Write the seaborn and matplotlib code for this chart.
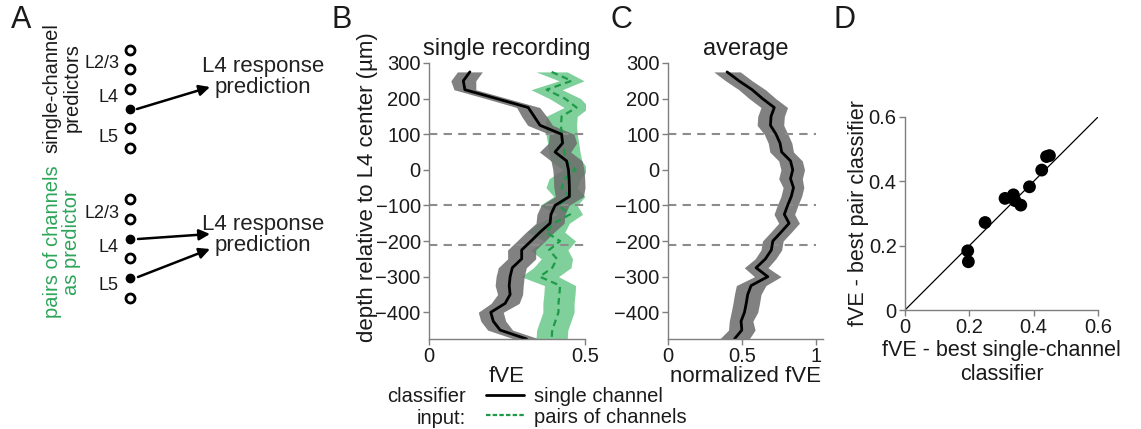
import numpy as np
import pandas as pd
import matplotlib.pyplot as plt
import seaborn as sns
from matplotlib.lines import Line2D

# depth (um relative to L4 center)
depth = [275, 250, 225, 200, 175, 150, 125, 100, 75, 50, 25, 0, -25, -50, -75, -100,
         -125, -150, -175, -200, -225, -250, -275, -300, -325, -350, -375, -400, -425, -450, -475]

# B: single recording
single_fve = [0.131, 0.110, 0.115, 0.217, 0.318, 0.337, 0.356, 0.425, 0.428, 0.404, 0.441, 0.447,
              0.449, 0.450, 0.450, 0.404, 0.391, 0.388, 0.356, 0.327, 0.297, 0.297, 0.267, 0.260,
              0.257, 0.260, 0.244, 0.198, 0.206, 0.228, 0.313]
single_err = [0.040, 0.040, 0.035, 0.035, 0.037, 0.040, 0.040, 0.040, 0.045, 0.050, 0.050, 0.050,
              0.050, 0.050, 0.045, 0.045, 0.045, 0.045, 0.045, 0.045, 0.045, 0.045, 0.045, 0.045,
              0.045, 0.040, 0.045, 0.040, 0.040, 0.040, 0.040]
pair_fve = [0.393, 0.457, 0.377, 0.436, 0.473, 0.425, 0.423, 0.425, 0.430, 0.434, 0.440, 0.470,
            0.435, 0.425, 0.450, 0.415, 0.452, 0.400, 0.375, 0.420, 0.385, 0.410, 0.395, 0.355,
            0.420, 0.418, 0.415, 0.415, 0.405, 0.395, 0.393]
pair_err = [0.050, 0.040, 0.050, 0.050, 0.040, 0.050, 0.050, 0.050, 0.050, 0.050, 0.050, 0.040,
            0.050, 0.050, 0.050, 0.060, 0.040, 0.050, 0.060, 0.050, 0.060, 0.050, 0.060, 0.060,
            0.050, 0.050, 0.050, 0.050, 0.050, 0.050, 0.050]

# C: average normalized fVE
avg_fve = [0.400, 0.480, 0.570, 0.640, 0.720, 0.698, 0.694, 0.732, 0.759, 0.770, 0.830, 0.845,
           0.830, 0.850, 0.835, 0.810, 0.788, 0.820, 0.766, 0.710, 0.700, 0.660, 0.597, 0.676,
           0.563, 0.540, 0.530, 0.518, 0.495, 0.500, 0.450]
avg_err = [0.090, 0.090, 0.090, 0.090, 0.090, 0.090, 0.090, 0.080, 0.080, 0.080, 0.080, 0.080,
           0.080, 0.070, 0.070, 0.070, 0.070, 0.070, 0.070, 0.070, 0.070, 0.070, 0.080, 0.090,
           0.100, 0.090, 0.090, 0.090, 0.080, 0.090, 0.100]

layer_bounds = [100, -100, -210]

# D: best single vs best pair
best_single = [0.195, 0.197, 0.249, 0.311, 0.337, 0.342, 0.360, 0.387, 0.425, 0.440, 0.449]
best_pair = [0.184, 0.150, 0.272, 0.347, 0.358, 0.340, 0.326, 0.383, 0.435, 0.477, 0.480]

# A: schematic electrode channels (pixel rows)
chan_top = [50, 69, 89, 109, 128, 148]
chan_bot = [199, 219, 239, 258, 278, 298]
used_top = [False, False, False, True, False, False]
used_bot = [False, False, True, False, True, False]

sns.set_theme(style="white")
plt.rcParams['font.family'] = ['Liberation Sans', 'DejaVu Sans']
plt.rcParams['axes.edgecolor'] = '#7f7f7f'
plt.rcParams['text.color'] = '#1a1a1a'
plt.rcParams['axes.labelcolor'] = '#1a1a1a'
plt.rcParams['xtick.labelcolor'] = '#1a1a1a'
plt.rcParams['ytick.labelcolor'] = '#1a1a1a'

GREEN = '#1e9a48'
GREEN_BAND = '#7fd09b'
GREY_BAND = '#6b6b6b'
W, H = 1141, 429
TICK = 14.5
LAB = 16

fig = plt.figure(figsize=(11.41, 4.29), dpi=100)

def style_axes(ax):
    sns.despine(ax=ax)
    ax.tick_params(axis='both', direction='out', length=4, width=1, color='#7f7f7f',
                   labelsize=TICK, pad=2, left=True, bottom=True)
    for s in ['left', 'bottom']:
        ax.spines[s].set_linewidth(1.0)

df = pd.DataFrame({'depth': depth, 'single': single_fve, 'pair': pair_fve, 'avg': avg_fve})

# ---- B
axB = fig.add_axes([429 / W, (H - 339) / H, 156 / W, 276 / H])
d = np.array(depth)
axB.fill_betweenx(d, np.array(pair_fve) - pair_err, np.array(pair_fve) + pair_err,
                  color=GREEN_BAND, lw=0)
axB.fill_betweenx(d, np.array(single_fve) - single_err, np.array(single_fve) + single_err,
                  color=GREY_BAND, lw=0, alpha=0.85)
for yb in layer_bounds:
    axB.axhline(yb, color='#8c8c8c', ls=(0, (4, 3)), lw=1.5, zorder=1)
sns.lineplot(data=df, x='pair', y='depth', orient='y', sort=False, estimator=None,
             color=GREEN, lw=1.6, ls=(0, (3, 2)), ax=axB)
sns.lineplot(data=df, x='single', y='depth', orient='y', sort=False, estimator=None,
             color='black', lw=2, ax=axB)
axB.set_xlim(0, 0.5)
axB.set_ylim(-475, 300)
axB.set_yticks([-400, -300, -200, -100, 0, 100, 200, 300])
axB.set_xticks([0, 0.5])
axB.set_xticklabels(['0', '0.5'])
axB.set_xlabel('fVE', fontsize=LAB, labelpad=0)
axB.set_ylabel('depth relative to L4 center (\u00b5m)', fontsize=LAB)
axB.yaxis.set_label_coords(-0.33, 0.55)
axB.set_title('single recording', fontsize=17, pad=6)
style_axes(axB)

# ---- C
axC = fig.add_axes([668 / W, (H - 339) / H, 155 / W, 276 / H])
axC.fill_betweenx(d, np.array(avg_fve) - avg_err, np.array(avg_fve) + avg_err,
                  color=GREY_BAND, lw=0, alpha=0.85)
for yb in layer_bounds:
    axC.hlines(yb, 0, 1, color='#8c8c8c', ls=(0, (4, 3)), lw=1.5, zorder=1)
sns.lineplot(data=df, x='avg', y='depth', orient='y', sort=False, estimator=None,
             color='black', lw=2, ax=axC)
axC.set_xlim(0, 1.05)
axC.set_ylim(-475, 300)
axC.set_yticks([-400, -300, -200, -100, 0, 100, 200, 300])
axC.set_xticks([0, 0.5, 1])
axC.set_xticklabels(['0', '0.5', '1'])
axC.set_xlabel('normalized fVE', fontsize=LAB, labelpad=0)
axC.set_ylabel('')
axC.set_title('average', fontsize=17, pad=6)
style_axes(axC)

# ---- D
axD = fig.add_axes([905 / W, (H - 310) / H, 193 / W, 193 / H])
axD.plot([0, 0.6], [0, 0.6], color='black', lw=0.9)
sns.scatterplot(x=best_single, y=best_pair, color='black', s=85, edgecolor='none', ax=axD)
axD.set_xlim(0, 0.6)
axD.set_ylim(0, 0.6)
axD.set_xticks([0, 0.2, 0.4, 0.6])
axD.set_yticks([0, 0.2, 0.4, 0.6])
axD.set_xticklabels(['0', '0.2', '0.4', '0.6'])
axD.set_yticklabels(['0', '0.2', '0.4', '0.6'])
axD.set_xlabel('fVE - best single-channel\nclassifier', fontsize=15.5, labelpad=2,
               linespacing=1.2)
axD.set_ylabel('fVE - best pair classifier', fontsize=15.5, labelpad=0)
style_axes(axD)

# ---- A (schematic, pixel coordinates)
axA = fig.add_axes([0, 0, 330 / W, 1])
axA.set_xlim(0, 330)
axA.set_ylim(H, 0)
axA.axis('off')
for rows, used in [(chan_top, used_top), (chan_bot, used_bot)]:
    for yy, u in zip(rows, used):
        if u:
            axA.plot(130, yy, 'o', ms=6, color='black')
        else:
            axA.plot(130, yy, 'o', ms=6.5, mfc='white', mec='black', mew=2)
for lab, yy in [('L2/3', 63), ('L4', 98), ('L5', 137), ('L2/3', 213), ('L4', 247), ('L5', 285)]:
    axA.text(119, yy, lab, ha='right', va='center', fontsize=13)
axA.text(62, 88, 'single-channel\npredictors', rotation=90, ha='center', va='center',
         fontsize=14.5, linespacing=1.05)
axA.text(62, 242, 'pairs of channels\nas predictor', rotation=90, ha='center', va='center',
         fontsize=14.5, linespacing=1.05, color='#2ea55a')
for yy in [77, 235]:
    axA.text(263, yy, 'L4 response\nprediction', ha='center', va='center', fontsize=16,
             linespacing=1.05, color='#222222')
arrow = dict(arrowstyle='-|>', lw=1.8, color='black', mutation_scale=16, shrinkA=0, shrinkB=0)
axA.annotate('', xy=(210, 87), xytext=(137, 109), arrowprops=arrow)
axA.annotate('', xy=(210, 234), xytext=(138, 239), arrowprops=arrow)
axA.annotate('', xy=(210, 249), xytext=(138, 277), arrowprops=arrow)

# panel letters
for lab, xx in [('A', 11), ('B', 332), ('C', 610), ('D', 833)]:
    fig.text(xx / W, 1 - 20 / H, lab, fontsize=22, ha='left', va='center')

# legend
fig.text(466 / W, 1 - 397 / H, 'classifier', ha='right', va='center', fontsize=14.5)
fig.text(466 / W, 1 - 418 / H, 'input:', ha='right', va='center', fontsize=14.5)
handles = [Line2D([], [], color='black', lw=2),
           Line2D([], [], color=GREEN, lw=1.6, ls=(0, (2, 1)))]
fig.legend(handles, ['single channel', 'pairs of channels'], loc='center left',
           bbox_to_anchor=(476 / W, 1 - 407 / H), frameon=False, fontsize=14.5,
           handlelength=1.9, handletextpad=0.5, labelspacing=0.05, borderpad=0)

plt.savefig('out.png', dpi=100)
